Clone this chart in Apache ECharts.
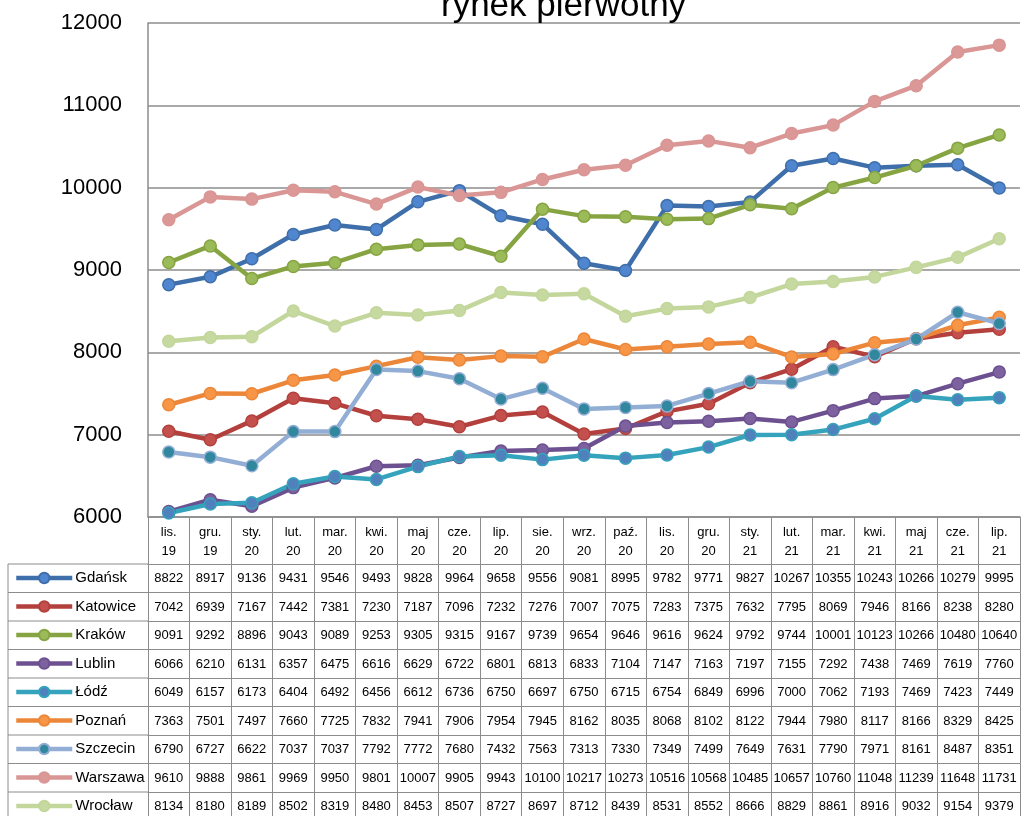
<!DOCTYPE html>
<html>
<head>
    <meta charset="utf-8">
    <script src="https://cdn.jsdelivr.net/npm/echarts@6/dist/echarts.min.js"></script>
</head>
<body style="margin:0">
    <div id="main" style="width:1021px;height:816px;"></div>
    <script type="text/javascript">
        // kategorie (miesiące) i lata
        var months = ['lis.', 'gru.', 'sty.', 'lut.', 'mar.', 'kwi.', 'maj', 'cze.', 'lip.', 'sie.', 'wrz.', 'paź.',
                      'lis.', 'gru.', 'sty.', 'lut.', 'mar.', 'kwi.', 'maj', 'cze.', 'lip.'];
        var years = ['19', '19', '20', '20', '20', '20', '20', '20', '20', '20', '20', '20',
                     '20', '20', '21', '21', '21', '21', '21', '21', '21'];
        var yTicks = [6000, 7000, 8000, 9000, 10000, 11000, 12000];

        var gdansk   = [8822, 8917, 9136, 9431, 9546, 9493, 9828, 9964, 9658, 9556, 9081, 8995, 9782, 9771, 9827, 10267, 10355, 10243, 10266, 10279, 9995];
        var katowice = [7042, 6939, 7167, 7442, 7381, 7230, 7187, 7096, 7232, 7276, 7007, 7075, 7283, 7375, 7632, 7795, 8069, 7946, 8166, 8238, 8280];
        var krakow   = [9091, 9292, 8896, 9043, 9089, 9253, 9305, 9315, 9167, 9739, 9654, 9646, 9616, 9624, 9792, 9744, 10001, 10123, 10266, 10480, 10640];
        var lublin   = [6066, 6210, 6131, 6357, 6475, 6616, 6629, 6722, 6801, 6813, 6833, 7104, 7147, 7163, 7197, 7155, 7292, 7438, 7469, 7619, 7760];
        var lodz     = [6049, 6157, 6173, 6404, 6492, 6456, 6612, 6736, 6750, 6697, 6750, 6715, 6754, 6849, 6996, 7000, 7062, 7193, 7469, 7423, 7449];
        var poznan   = [7363, 7501, 7497, 7660, 7725, 7832, 7941, 7906, 7954, 7945, 8162, 8035, 8068, 8102, 8122, 7944, 7980, 8117, 8166, 8329, 8425];
        var szczecin = [6790, 6727, 6622, 7037, 7037, 7792, 7772, 7680, 7432, 7563, 7313, 7330, 7349, 7499, 7649, 7631, 7790, 7971, 8161, 8487, 8351];
        var warszawa = [9610, 9888, 9861, 9969, 9950, 9801, 10007, 9905, 9943, 10100, 10217, 10273, 10516, 10568, 10485, 10657, 10760, 11048, 11239, 11648, 11731];
        var wroclaw  = [8134, 8180, 8189, 8502, 8319, 8480, 8453, 8507, 8727, 8697, 8712, 8439, 8531, 8552, 8666, 8829, 8861, 8916, 9032, 9154, 9379];

        var cityNames = ['Gdańsk', 'Katowice', 'Kraków', 'Lublin', 'Łódź', 'Poznań', 'Szczecin', 'Warszawa', 'Wrocław'];
        var cityData = [gdansk, katowice, krakow, lublin, lodz, poznan, szczecin, warszawa, wroclaw];
        // kolor linii / kolor znacznika
        var lineColors = ['#3F6FAA', '#B3403D', '#86A441', '#6C5090', '#35A3BB', '#EC873A', '#93AED5', '#D99694', '#C3D69B'];
        var dotColors  = ['#4F86CF', '#C4504D', '#9BBB59', '#7E62A0', '#4F81BD', '#F79646', '#31879E', '#DB9897', '#C6D9A0'];

        var font = 'Liberation Sans';
        var gray = '#8C8C8C';
        var headH = 47;     // wiersz z nazwami miesięcy
        var rowH = 28.5;    // wiersz tabeli danych
        var tableTop = 517 + headH;

        var categories = months.map(function (m, i) { return m + '\n' + years[i]; });

        var xAxes = [{
            type: 'category',
            data: categories,
            boundaryGap: true,
            axisLine: { lineStyle: { color: gray, width: 1.5 } },
            axisTick: { show: true, length: headH, interval: 0, lineStyle: { color: gray } },
            axisLabel: { interval: 0, fontSize: 13, lineHeight: 19, margin: 6, color: '#000', fontFamily: font }
        }];
        // każdy wiersz tabeli to osobna oś kategorii pod wykresem
        cityData.forEach(function (arr, i) {
            xAxes.push({
                type: 'category',
                position: 'bottom',
                offset: headH + i * rowH,
                data: arr.map(String),
                boundaryGap: true,
                axisLine: { show: true, lineStyle: { color: gray } },
                axisTick: { show: true, length: rowH, interval: 0, lineStyle: { color: gray } },
                axisLabel: { interval: 0, fontSize: 13, margin: 8, color: '#000', fontFamily: font, hideOverlap: false }
            });
        });

        var series = cityData.map(function (arr, i) {
            return {
                name: cityNames[i],
                type: 'line',
                data: arr,
                symbol: 'circle',
                symbolSize: 12,
                lineStyle: { color: lineColors[i], width: 4.5 },
                itemStyle: { color: dotColors[i], borderColor: lineColors[i], borderWidth: 1.5 },
                emphasis: { disabled: true }
            };
        });

        // ramki kolumny z legendą
        var borders = [];
        for (var r = 0; r <= cityNames.length; r++) {
            borders.push({
                type: 'line',
                shape: { x1: 8, y1: tableTop + r * rowH, x2: 148, y2: tableTop + r * rowH },
                style: { stroke: gray, lineWidth: 1 }
            });
        }
        borders.push({
            type: 'line',
            shape: { x1: 8, y1: tableTop, x2: 8, y2: 816 },
            style: { stroke: gray, lineWidth: 1 }
        });

        var myChart = echarts.init(document.getElementById('main'));
        var option = {
            animation: false,
            textStyle: { fontFamily: font },
            title: {
                text: 'rynek pierwotny',
                left: 436,
                top: -16,
                textStyle: { fontSize: 35, fontWeight: 'normal', color: '#000', fontFamily: font }
            },
            legend: {
                data: cityNames,
                orient: 'vertical',
                left: 14,
                top: tableTop + 6,
                height: 300,
                padding: 0,
                itemWidth: 56,
                itemHeight: 13,
                itemGap: rowH - 16,
                lineStyle: { width: 4.5 },
                textStyle: { fontSize: 15, lineHeight: 16, color: '#000', fontFamily: font, padding: [0, 0, 0, -2] },
                selectedMode: false
            },
            grid: { left: 148, right: 1, top: 23, bottom: 816 - 517 },
            xAxis: xAxes,
            yAxis: {
                type: 'value',
                min: yTicks[0],
                max: yTicks[yTicks.length - 1],
                interval: 1000,
                axisLine: { show: true, lineStyle: { color: gray, width: 1.5 } },
                axisTick: { show: false },
                splitLine: { lineStyle: { color: gray, width: 1.5 } },
                axisLabel: { fontSize: 22, margin: 26, color: '#000', fontFamily: font,
                             formatter: function (v) { return String(v); } }
            },
            graphic: borders,
            series: series
        };
        myChart.setOption(option);
    </script>
</body>
</html>
